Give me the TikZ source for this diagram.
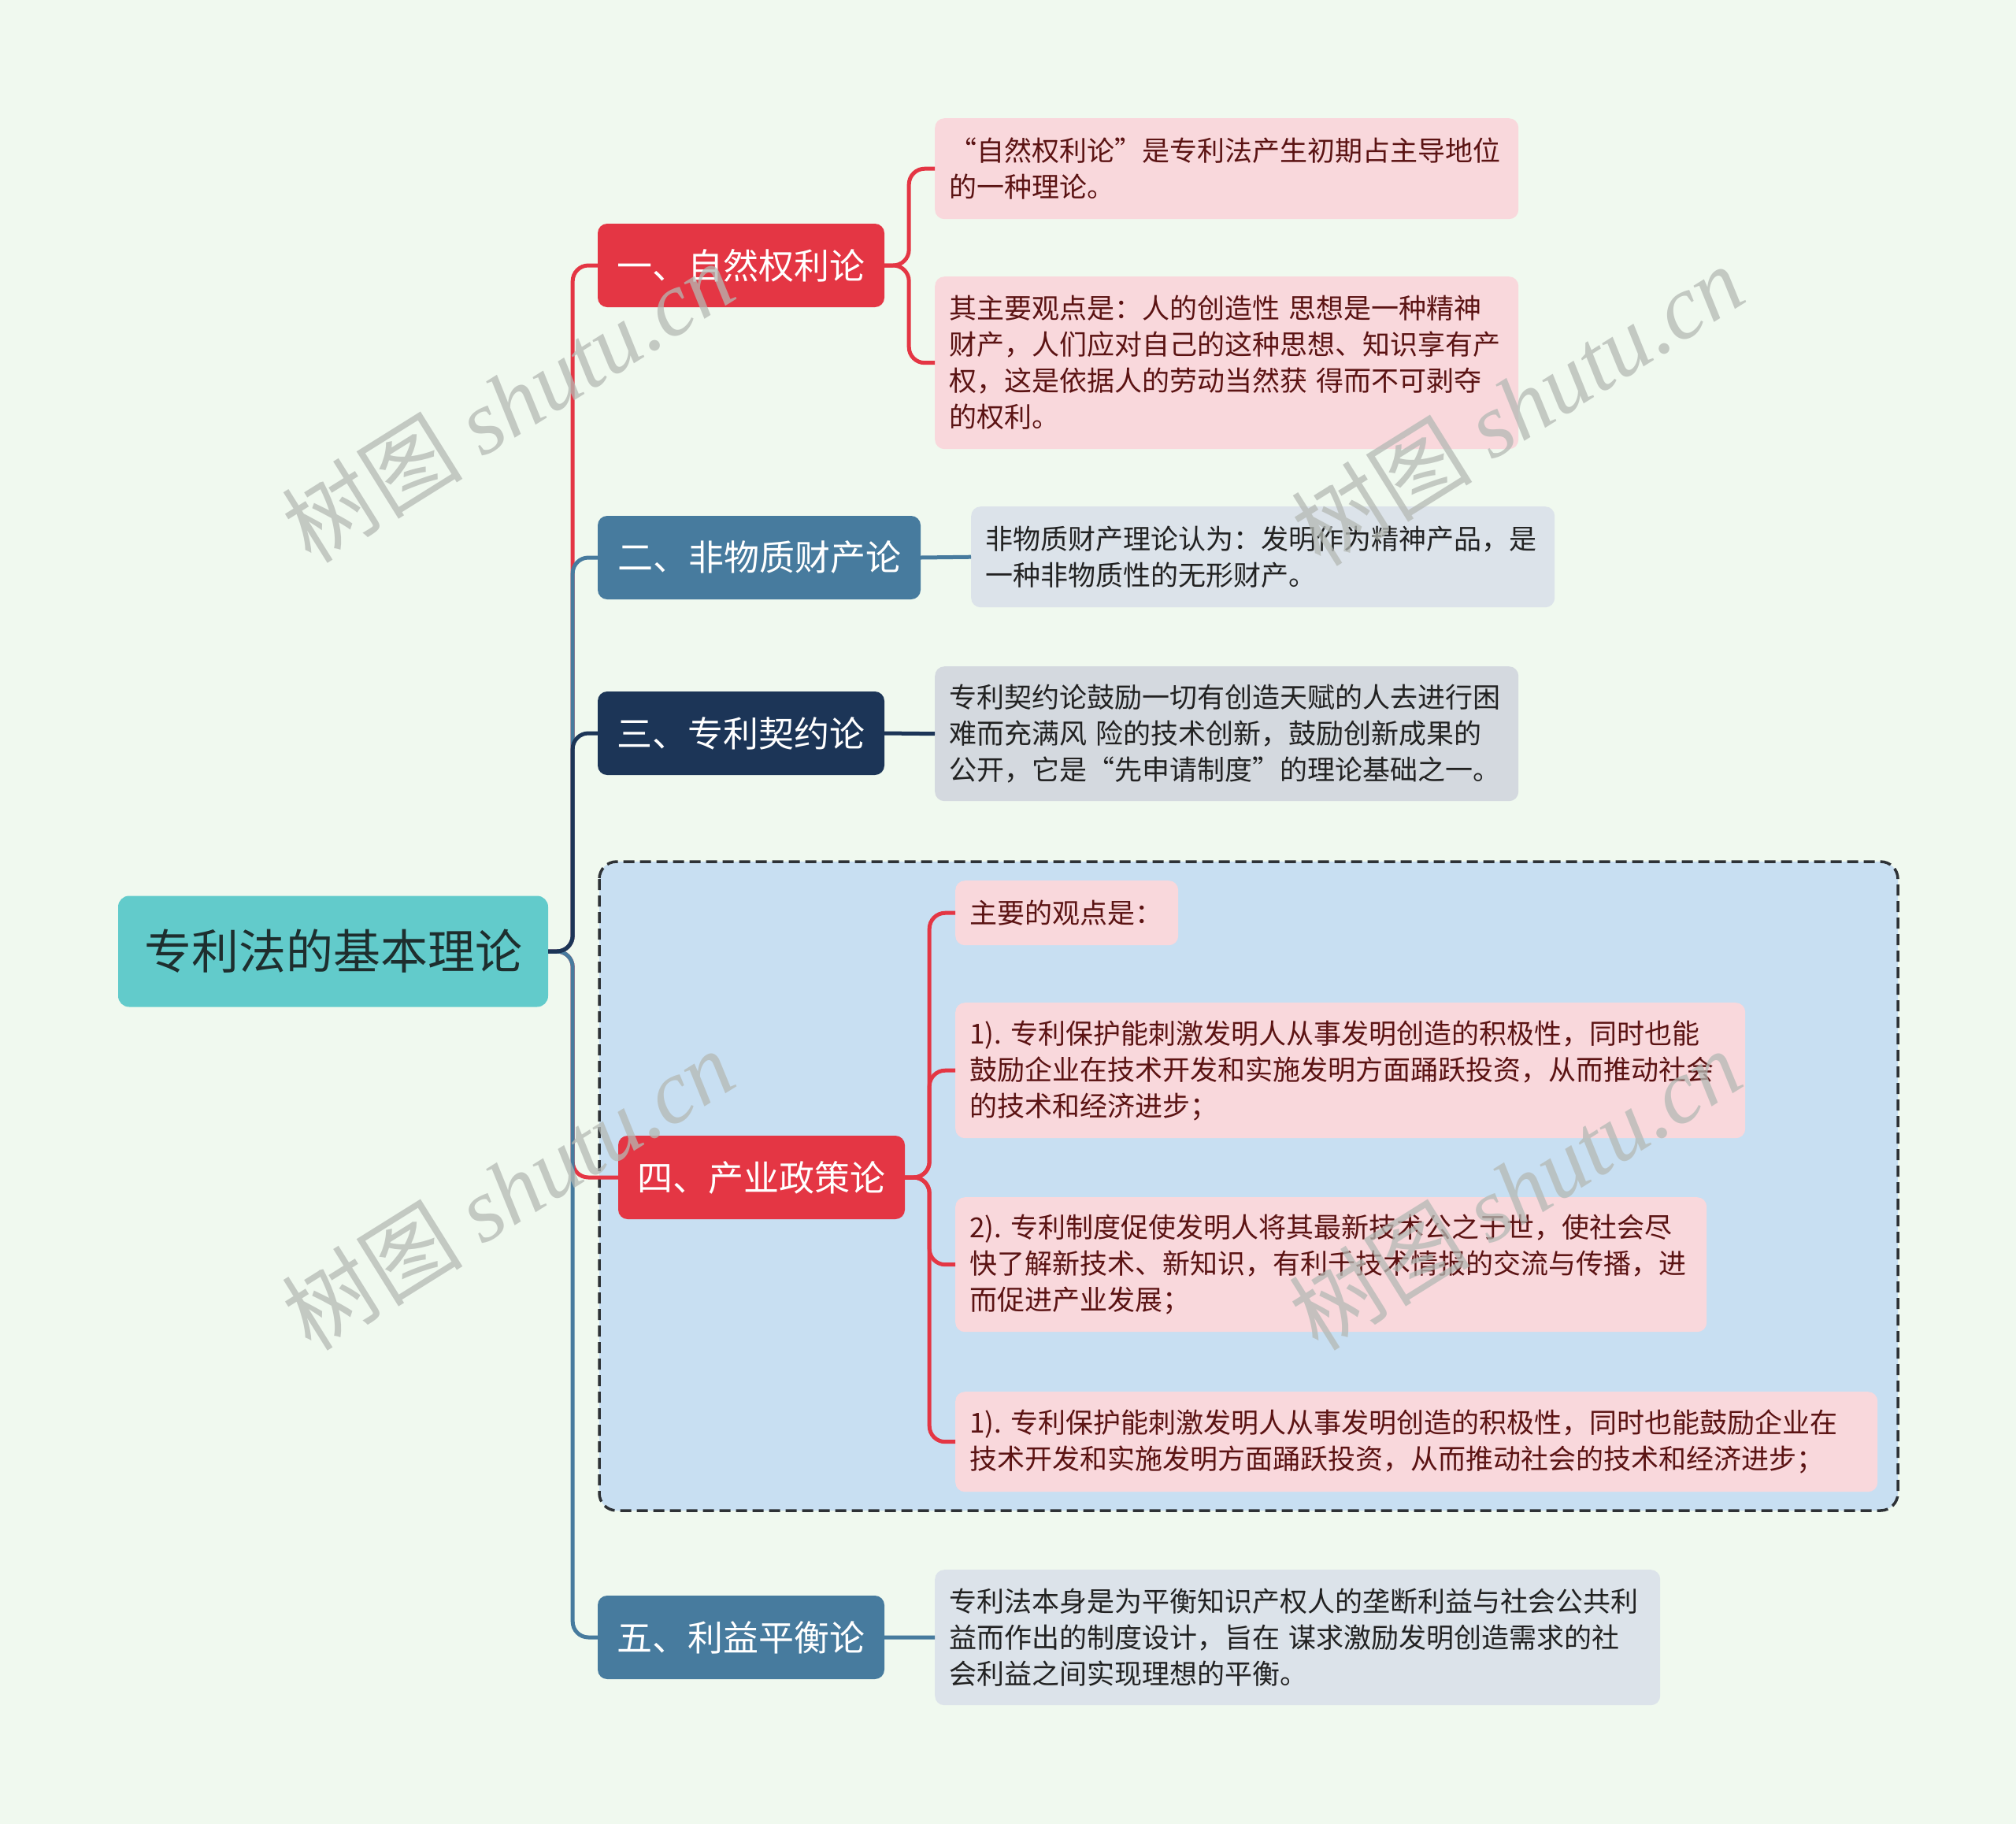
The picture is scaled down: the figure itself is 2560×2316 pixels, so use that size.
\documentclass[tikz,border=0pt]{standalone}
\usepackage{fontspec}
\setmainfont{Noto Sans CJK SC}
\newfontfamily\wmserif{Liberation Serif}
\newfontfamily\wmcjk{Noto Sans CJK SC}
\usetikzlibrary{calc}
\frenchspacing
\definecolor{bgc}{HTML}{F0F9EF}
\definecolor{rootfill}{HTML}{62CBCB}
\definecolor{rootText}{HTML}{1E2E2E}
\definecolor{redc}{HTML}{E43644}
\definecolor{bluec}{HTML}{477B9E}
\definecolor{navyc}{HTML}{1C3557}
\definecolor{pinkleaf}{HTML}{F9D8DC}
\definecolor{greyleaf}{HTML}{DCE3EA}
\definecolor{greyleafB}{HTML}{D4D9DF}
\definecolor{boxfill}{HTML}{C8DFF2}
\definecolor{dashc}{HTML}{2E3236}
\definecolor{leafred}{HTML}{5B1313}
\definecolor{leafdark}{HTML}{222222}
\definecolor{wmc}{HTML}{B4B9B4}
\tikzset{
  conn/.style={line width=5pt, rounded corners=20pt},
  branchbox/.style={rounded corners=12pt, minimum height=106pt, text=white,
    font=\fontsize{45}{54}\selectfont, inner sep=0pt},
  leafbox/.style={rounded corners=12pt, anchor=north west, inner xsep=18pt,
    inner ysep=0pt, align=left, font=\fontsize{35}{46}\selectfont},
  wm/.style={rotate=32, text=wmc, opacity=0.75, font=\fontsize{115}{125}\selectfont},
}
\begin{document}
\begin{tikzpicture}[x=1pt,y=-1pt]
\useasboundingbox[fill=bgc] (0,0) rectangle (2560,2316);

% dashed group box for branch 4
\draw[dashed, dash pattern=on 14pt off 7pt, line width=3.5pt, draw=dashc, fill=boxfill, rounded corners=22pt]
  (761,1094) rectangle (2410,1918);

% root
\node[fill=rootfill, rounded corners=14pt, minimum width=546pt, minimum height=141pt, inner sep=0pt,
  text=rootText, font=\fontsize{60}{70}\selectfont] (root) at (423,1208) {专利法的基本理论};

% branches
\node[branchbox, fill=redc, minimum width=364pt] (b1) at (941,337) {一、自然权利论};
\node[branchbox, fill=bluec, minimum width=410pt] (b2) at (964,708) {二、非物质财产论};
\node[branchbox, fill=navyc, minimum width=364pt] (b3) at (941,931) {三、专利契约论};
\node[branchbox, fill=redc, minimum width=364pt] (b4) at (967,1495) {四、产业政策论};
\node[branchbox, fill=bluec, minimum width=364pt] (b5) at (941,2079) {五、利益平衡论};

% leaves
\node[leafbox, fill=pinkleaf, text=leafred, minimum width=741pt, minimum height=128pt, text width=705pt]
  (l1a) at (1187,150) {“自然权利论”是专利法产生初期占主导地位\\的一种理论。};
\node[leafbox, fill=pinkleaf, text=leafred, minimum width=741pt, minimum height=219pt, text width=705pt]
  (l1b) at (1187,351) {其主要观点是：人的创造性 思想是一种精神\\财产，人们应对自己的这种思想、知识享有产\\权，这是依据人的劳动当然获 得而不可剥夺\\的权利。};
\node[leafbox, fill=greyleaf, text=leafdark, minimum width=741pt, minimum height=128pt, text width=705pt]
  (l2a) at (1233,643) {非物质财产理论认为：发明作为精神产品，是\\一种非物质性的无形财产。};
\node[leafbox, fill=greyleafB, text=leafdark, minimum width=741pt, minimum height=171pt, text width=705pt]
  (l3a) at (1187,846) {专利契约论鼓励一切有创造天赋的人去进行困\\难而充满风 险的技术创新，鼓励创新成果的\\公开，它是“先申请制度”的理论基础之一。};
\node[leafbox, fill=pinkleaf, text=leafred, minimum width=283pt, minimum height=82pt, text width=247pt]
  (l4a) at (1213,1118) {主要的观点是：};
\node[leafbox, fill=pinkleaf, text=leafred, minimum width=1003pt, minimum height=172pt, text width=967pt]
  (l4b) at (1213,1273) {1). 专利保护能刺激发明人从事发明创造的积极性，同时也能\\鼓励企业在技术开发和实施发明方面踊跃投资，从而推动社会\\的技术和经济进步；};
\node[leafbox, fill=pinkleaf, text=leafred, minimum width=954pt, minimum height=171pt, text width=918pt]
  (l4c) at (1213,1520) {2). 专利制度促使发明人将其最新技术公之于世，使社会尽\\快了解新技术、新知识，有利千技术情报的交流与传播，进\\而促进产业发展；};
\node[leafbox, fill=pinkleaf, text=leafred, minimum width=1171pt, minimum height=127pt, text width=1135pt]
  (l4d) at (1213,1767) {1). 专利保护能刺激发明人从事发明创造的积极性，同时也能鼓励企业在\\技术开发和实施发明方面踊跃投资，从而推动社会的技术和经济进步；};
\node[leafbox, fill=greyleaf, text=leafdark, minimum width=921pt, minimum height=172pt, text width=885pt]
  (l5a) at (1187,1993) {专利法本身是为平衡知识产权人的垄断利益与社会公共利\\益而作出的制度设计，旨在 谋求激励发明创造需求的社\\会利益之间实现理想的平衡。};

% root to branches (red first, then blue, then navy on top)
\draw[conn, redc] (root.east) -- ++(31,0) |- (b1.west);
\draw[conn, redc] (root.east) -- ++(31,0) |- (b4.west);
\draw[conn, bluec] (root.east) -- ++(31,0) |- (b2.west);
\draw[conn, bluec] (root.east) -- ++(31,0) |- (b5.west);
\draw[conn, navyc] (root.east) -- ++(31,0) |- (b3.west);

% branches to leaves
\draw[conn, redc] (b1.east) -- ++(31,0) |- (l1a.west);
\draw[conn, redc] (b1.east) -- ++(31,0) |- (l1b.west);
\draw[conn, bluec] (b2.east) -- (l2a.west);
\draw[conn, navyc] (b3.east) -- (l3a.west);
\draw[conn, redc] (b4.east) -- ++(31,0) |- (l4a.west);
\draw[conn, redc] (b4.east) -- ++(31,0) |- (l4b.west);
\draw[conn, redc] (b4.east) -- ++(31,0) |- (l4c.west);
\draw[conn, redc] (b4.east) -- ++(31,0) |- (l4d.west);
\draw[conn, bluec] (b5.east) -- (l5a.west);

% watermarks
\node[wm] (wm1) at (645,510) {\wmcjk 树图\ \wmserif\itshape shutu.cn};
\node[wm] (wm2) at (1927,514) {\wmcjk 树图\ \wmserif\itshape shutu.cn};
\node[wm] (wm3) at (645,1510) {\wmcjk 树图\ \wmserif\itshape shutu.cn};
\node[wm] (wm4) at (1924,1510) {\wmcjk 树图\ \wmserif\itshape shutu.cn};
\end{tikzpicture}
\end{document}
